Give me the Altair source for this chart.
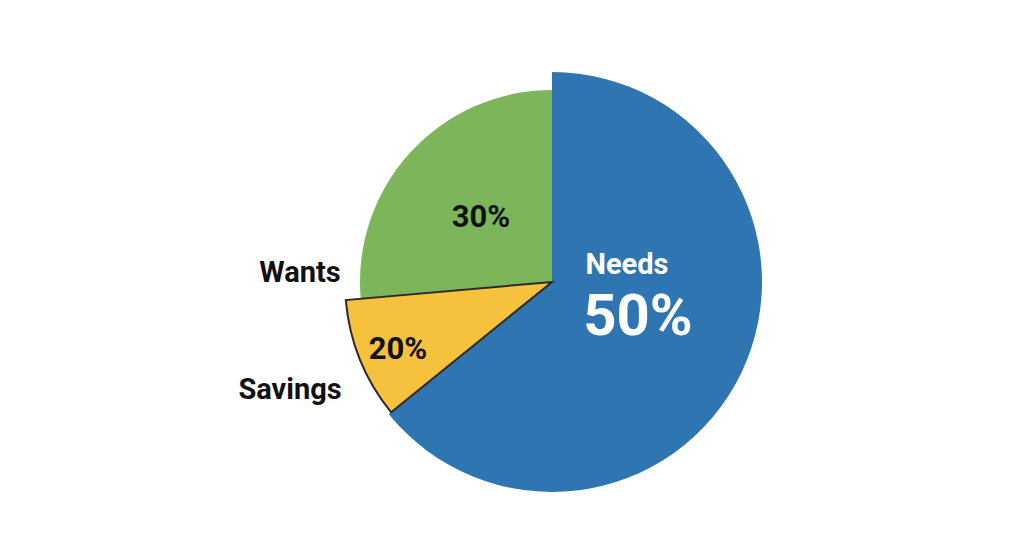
import altair as alt
import pandas as pd

# Data
categories = ["Needs", "Wants", "Savings"]
pct_labels = ["50%", "30%", "20%"]
# slice sweep as drawn (degrees)
slice_deg = [231, 95, 34]
stack_idx = [0, 2, 1]  # clockwise order from 12 o'clock: Needs, Savings, Wants

df = pd.DataFrame({
    "cat": categories,
    "pct": pct_labels,
    "deg": slice_deg,
    "idx": stack_idx,
})

colors = alt.Scale(domain=["Needs", "Wants", "Savings"],
                   range=["#2E75B2", "#7DB65A", "#F6C23E"])

base = alt.Chart(df)

pie = base.transform_stack(
    stack="deg", groupby=[], as_=["t0", "t1"], sort=[alt.SortField("idx")]
).transform_calculate(
    r="datum.cat == 'Needs' ? 210 : datum.cat == 'Savings' ? 207 : 192",
    sw="datum.cat == 'Savings' ? 2 : 0",
).mark_arc(stroke="#2b2b2b", strokeJoin="miter").encode(
    theta=alt.Theta("t0:Q", scale=alt.Scale(domain=[0, 360])),
    theta2="t1:Q",
    radius=alt.Radius("r:Q", scale=None),
    color=alt.Color("cat:N", scale=colors, legend=None),
    strokeWidth=alt.StrokeWidth("sw:Q", scale=None),
)

def label(cat, field, dx, dy, size, color):
    return base.transform_filter(alt.datum.cat == cat).mark_text(
        font="Roboto", fontWeight="bold", fontSize=size, color=color,
        dx=dx, dy=dy, align="center", baseline="middle",
    ).encode(text=f"{field}:N")

layers = [
    pie,
    label("Needs", "cat", 75, -17, 29, "white"),
    label("Needs", "pct", 86, 36, 58, "white"),
    label("Wants", "pct", -71, -64, 31, "#111111"),
    label("Savings", "pct", -154, 68, 31, "#111111"),
    label("Wants", "cat", -252, -9, 29, "#111111"),
    label("Savings", "cat", -262, 108, 29, "#111111"),
]

chart = alt.layer(*layers).properties(
    width=900, height=520,
    padding={"left": 94, "top": 14, "right": 0, "bottom": 0},
).configure_view(stroke=None).configure(background="white")

chart.save("out.html", embed_options={"renderer": "svg", "actions": False})
